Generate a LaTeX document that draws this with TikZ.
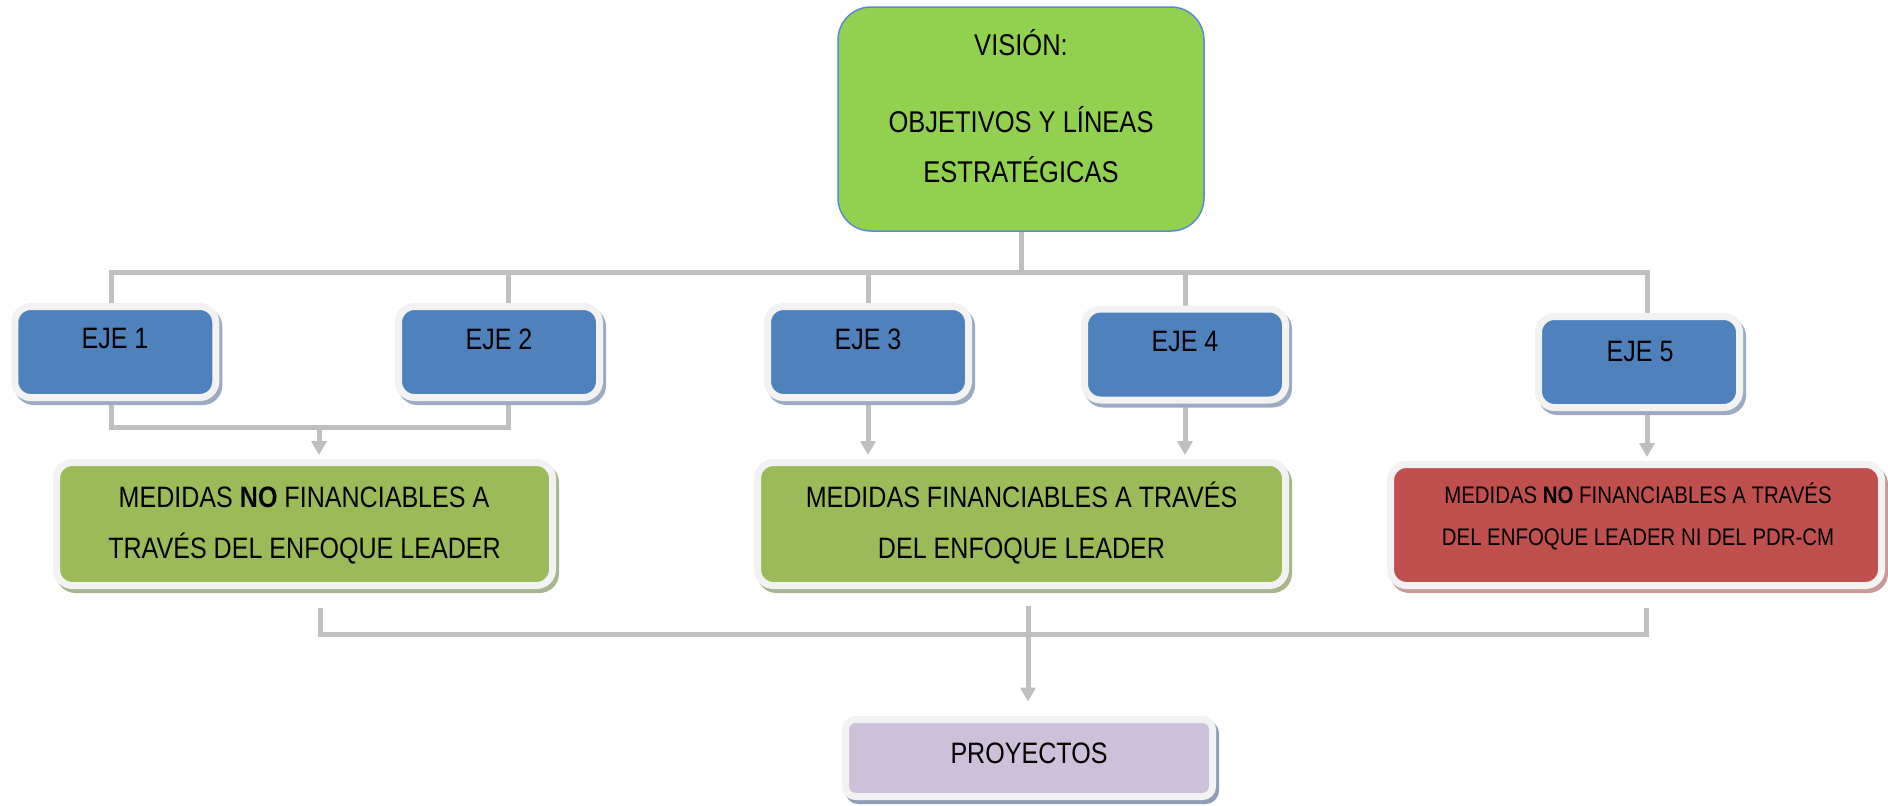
\documentclass[tikz,border=0pt]{standalone}
\usepackage{fontspec}
\setmainfont[FakeStretch=0.85]{Liberation Sans}
\usetikzlibrary{arrows.meta,shadows,backgrounds}
\definecolor{visgreen}{HTML}{92D050}
\definecolor{visborder}{HTML}{5A8AD6}
\definecolor{ejeblue}{HTML}{4F81BD}
\definecolor{medgreen}{HTML}{9BBB59}
\definecolor{medred}{HTML}{C0504D}
\definecolor{lav}{HTML}{CCC0DA}
\definecolor{framegrey}{HTML}{F2F2F2}
\definecolor{conngrey}{HTML}{BFBFBF}
\definecolor{shblue}{HTML}{9DAAC4}
\definecolor{shgreen}{HTML}{A9B58E}
\definecolor{shred}{HTML}{C99898}
\definecolor{shlav}{HTML}{8F9DB5}
\begin{document}
\begin{tikzpicture}[x=1pt,y=-1pt,
  framebox/.style={rectangle, draw=framegrey, line width=7pt, rounded corners=16pt, inner sep=0pt},
  ejebox/.style={framebox, fill=ejeblue, minimum width=201pt, minimum height=91pt,
     general shadow={shadow xshift=3pt, shadow yshift=-4pt, fill=shblue, draw=shblue, line width=7pt}},
  greenbox/.style={framebox, fill=medgreen, minimum height=123pt,
     general shadow={shadow xshift=3pt, shadow yshift=-4pt, fill=shgreen, draw=shgreen, line width=7pt}},
  redbox/.style={framebox, fill=medred, minimum height=121pt,
     general shadow={shadow xshift=3pt, shadow yshift=-4pt, fill=shred, draw=shred, line width=7pt}},
  lavbox/.style={framebox, fill=lav, minimum width=367pt, minimum height=77pt, rounded corners=10pt,
     general shadow={shadow xshift=3pt, shadow yshift=-4pt, fill=shlav, draw=shlav, line width=7pt}},
  visbox/.style={rectangle, fill=visgreen, draw=visborder, line width=1.5pt, rounded corners=33pt,
     minimum width=366pt, minimum height=224pt, inner sep=0pt},
  txt/.style={font=\fontsize{29.5}{35}\selectfont, inner sep=0pt, anchor=base},
  vtxt/.style={font=\fontsize{30}{36}\selectfont, inner sep=0pt, anchor=base},
  smalltxt/.style={font=\fontsize{24}{29}\selectfont, inner sep=0pt, anchor=base},
  conn/.style={draw=conngrey, line width=5pt},
  arr/.style={conn, -{Triangle[width=15pt,length=14pt]}, shorten >=4pt},
]
\useasboundingbox (0,0) rectangle (1888,806);

% boxes
\node[visbox] (vis) at (1021,119) {};
\node[ejebox] (e1) at (115.3,352) {};
\node[ejebox] (e2) at (499,352) {};
\node[ejebox] (e3) at (868,352) {};
\node[ejebox] (e4) at (1185,354.5) {};
\node[ejebox] (e5) at (1639,362) {};
\node[greenbox, minimum width=496pt] (g1) at (304.5,524) {};
\node[greenbox, minimum width=528pt] (g2) at (1021.5,524) {};
\node[redbox, minimum width=491pt] (r) at (1636,525) {};
\node[lavbox] (p) at (1029,758) {};

% texts
\node[vtxt] (vt1) at (1021,55.5) {VISIÓN:};
\node[vtxt] (vt2) at (1021,132.5) {OBJETIVOS Y LÍNEAS};
\node[vtxt] (vt3) at (1021,182.5) {ESTRATÉGICAS};
\node[txt] (e1t) at (115,348.5) {EJE 1};
\node[txt] (e2t) at (499,349) {EJE 2};
\node[txt] (e3t) at (868,349) {EJE 3};
\node[txt] (e4t) at (1185,351) {EJE 4};
\node[txt] (e5t) at (1640,361) {EJE 5};
\node[txt] (g1t1) at (304,507.5) {MEDIDAS \textbf{NO} FINANCIABLES A};
\node[txt] (g1t2) at (304.5,558.5) {TRAVÉS DEL ENFOQUE LEADER};
\node[txt] (g2t1) at (1021.5,507.5) {MEDIDAS FINANCIABLES A TRAVÉS};
\node[txt] (g2t2) at (1021.5,558.5) {DEL ENFOQUE LEADER};
\node[smalltxt] (rt1) at (1638,503.5) {MEDIDAS \textbf{NO} FINANCIABLES A TRAVÉS};
\node[smalltxt] (rt2) at (1638,545.5) {DEL ENFOQUE LEADER NI DEL PDR-CM};
\node[txt] (pt) at (1029,763) {PROYECTOS};

% connectors
\begin{pgfonlayer}{background}
\coordinate (bus) at (1021,272);
\draw[conn] (vis.south) -- (bus);
\draw[conn] ([xshift=-4pt]e1.north) |- (bus);
\draw[conn] ([xshift=9pt]e2.north) |- (bus);
\draw[conn] (e3.north) |- (bus);
\draw[conn] (e4.north) |- (bus);
\draw[conn] ([xshift=8pt]e5.north) |- (bus);

\coordinate (b12) at (319,427);
\draw[conn] ([xshift=-4pt]e1.south) |- (b12);
\draw[conn] ([xshift=9pt]e2.south) |- (b12);
\draw[arr] (b12) -- (b12 |- g1.north);
\draw[arr] (e3.south) -- (e3.south |- g2.north);
\draw[arr] (e4.south) -- (e4.south |- g2.north);
\coordinate (e5b) at ([xshift=8pt]e5.south);
\draw[arr] (e5b) -- (e5b |- r.north);

\coordinate (g1b) at (320,608);
\coordinate (rb) at (1646,608);
\coordinate (g2b) at (1028,606);
\coordinate (pbus) at (1028,634);
\draw[conn] (g1b) |- (pbus);
\draw[conn] (rb) |- (pbus);
\draw[arr, shorten >=14.5pt] (g2b) -- (g2b |- p.north);
\end{pgfonlayer}
\end{tikzpicture}
\end{document}
